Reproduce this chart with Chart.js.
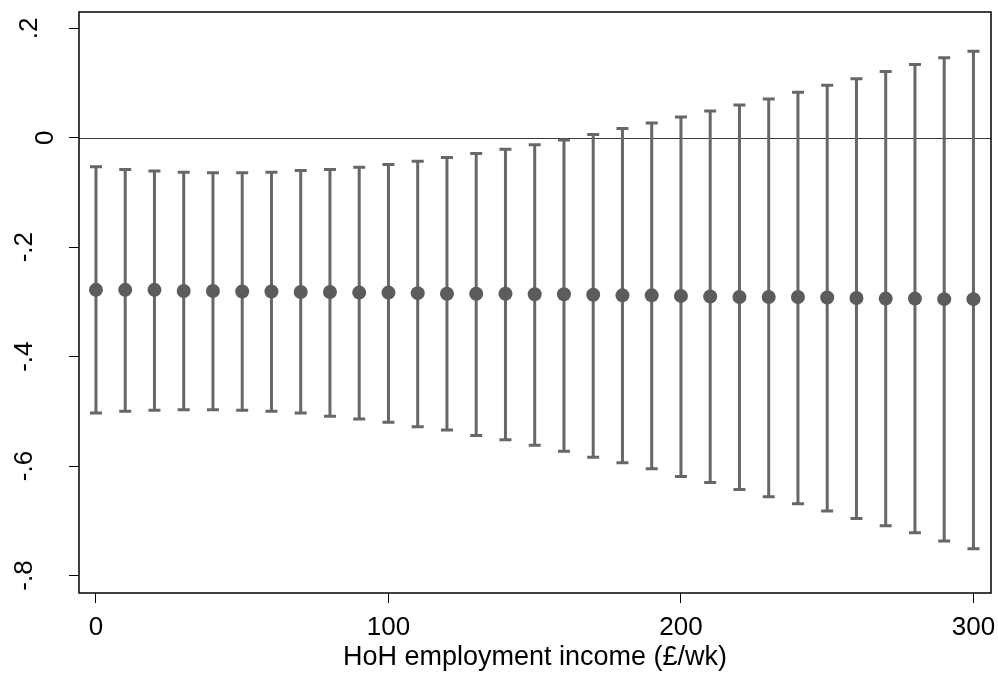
<!DOCTYPE html>
<html>
<head>
<meta charset="utf-8">
<script src="https://cdn.jsdelivr.net/npm/chart.js@4.4.1/dist/chart.umd.min.js"></script>
<style>
	html, body { margin: 0; padding: 0; background: #fff; }
	#wrap { width: 998px; height: 678px; }
</style>
</head>
<body>
<div id="wrap"><canvas id="chart" width="998" height="678"></canvas></div>
<script>
	// income levels (categories)
	var income = [0, 10, 20, 30, 40, 50, 60, 70, 80, 90, 100, 110, 120, 130, 140, 150,
		160, 170, 180, 190, 200, 210, 220, 230, 240, 250, 260, 270, 280, 290, 300];

	// marginal effect and its confidence interval
	var estimate = [-0.278, -0.278, -0.278, -0.280, -0.280, -0.281, -0.281, -0.282, -0.282, -0.283, -0.283,
		-0.284, -0.285, -0.285, -0.285, -0.286, -0.286, -0.287, -0.288, -0.288, -0.289,
		-0.290, -0.291, -0.291, -0.291, -0.292, -0.293, -0.294, -0.294, -0.295, -0.295];
	var upper = [-0.053, -0.058, -0.061, -0.063, -0.064, -0.064, -0.063, -0.060, -0.058, -0.054, -0.049,
		-0.043, -0.036, -0.029, -0.021, -0.013, -0.004, 0.006, 0.017, 0.027, 0.038,
		0.049, 0.060, 0.071, 0.083, 0.096, 0.108, 0.121, 0.134, 0.146, 0.158];
	var lower = [-0.503, -0.500, -0.498, -0.497, -0.497, -0.498, -0.500, -0.503, -0.509, -0.514, -0.520,
		-0.528, -0.534, -0.544, -0.552, -0.562, -0.573, -0.584, -0.594, -0.605, -0.619,
		-0.630, -0.643, -0.656, -0.669, -0.682, -0.696, -0.709, -0.722, -0.737, -0.751];

	var xTicks = [0, 100, 200, 300];
	var yTicks = [-0.8, -0.6, -0.4, -0.2, 0, 0.2];
	var xTitle = 'HoH employment income (£/wk)';

	var FONT = '"Liberation Sans", Arial, Helvetica, sans-serif';
	var barColor = '#676767';
	var dotColor = '#5c5c5c';

	function stataLabel(v) {
		var s = String(Math.round(v * 10) / 10);
		return s.replace(/^(-?)0\./, '$1.');
	}

	// where the baseline of a vertical y label sits (Stata puts short ones nearer the axis)
	function labelX(v) {
		if(v < 0) {
			return 32;
		}
		return v === 0 ? 53 : 37;
	}

	// tiny helper so the loops read like the rest of the codebase
	var _ = {
		each: function(list, fn) {
			for(var i = 0; i < list.length; i++) {
				fn(list[i], i);
			}
		}
	};

	var errorBars = {
		id: 'errorBars',
		beforeDatasetsDraw: function(chart) {
			var ctx = chart.ctx;
			var x = chart.scales.x;
			var y = chart.scales.y;
			var area = chart.chartArea;

			ctx.save();
			// reference line at zero
			var y0 = Math.round(y.getPixelForValue(0)) + 0.5;
			ctx.strokeStyle = '#3a3a3a';
			ctx.lineWidth = 1;
			ctx.beginPath();
			ctx.moveTo(area.left, y0);
			ctx.lineTo(area.right, y0);
			ctx.stroke();

			ctx.strokeStyle = barColor;
			ctx.lineWidth = 3;
			_.each(income, function(v, i) {
				var px = x.getPixelForValue(v);
				var top = y.getPixelForValue(upper[i]);
				var bot = y.getPixelForValue(lower[i]);
				ctx.beginPath();
				ctx.moveTo(px, top);
				ctx.lineTo(px, bot);
				ctx.moveTo(px - 6, top);
				ctx.lineTo(px + 6, top);
				ctx.moveTo(px - 6, bot);
				ctx.lineTo(px + 6, bot);
				ctx.stroke();
			});
			ctx.restore();
		},
		afterDraw: function(chart) {
			var ctx = chart.ctx;
			var y = chart.scales.y;
			var area = chart.chartArea;

			ctx.save();
			ctx.strokeStyle = '#000';
			ctx.lineWidth = 1.5;
			ctx.strokeRect(area.left, area.top, area.right - area.left, area.bottom - area.top);

			// vertical tick labels, Stata style
			ctx.fillStyle = '#000';
			ctx.font = '26px ' + FONT;
			ctx.textAlign = 'center';
			ctx.textBaseline = 'alphabetic';
			_.each(yTicks, function(v) {
				ctx.save();
				ctx.translate(labelX(v), y.getPixelForValue(v));
				ctx.rotate(-Math.PI / 2);
				ctx.fillText(stataLabel(v), 0, 0);
				ctx.restore();
			});
			ctx.restore();
		}
	};

	var points = income.map(function(v, i) {
		return {x: v, y: estimate[i]};
	});

	new Chart(document.getElementById('chart'), {
		type: 'scatter',
		data: {
			datasets: [{
				data: points,
				pointRadius: 7,
				pointBackgroundColor: dotColor,
				pointBorderWidth: 0,
				showLine: false
			}]
		},
		options: {
			responsive: false,
			animation: false,
			devicePixelRatio: 1,
			layout: {
				padding: {top: 12, right: 7, left: 0, bottom: 0}
			},
			plugins: {
				legend: {display: false},
				tooltip: {enabled: false}
			},
			scales: {
				x: {
					type: 'linear',
					min: -5.8,
					max: 306,
					afterBuildTicks: function(scale) {
						scale.ticks = xTicks.map(function(v) { return {value: v}; });
					},
					afterFit: function(scale) {
						scale.height = 85;
						scale.paddingLeft = 0;
						scale.paddingRight = 0;
					},
					grid: {
						drawOnChartArea: false,
						drawTicks: true,
						tickLength: 10,
						color: '#000',
						lineWidth: 1
					},
					border: {display: false},
					ticks: {
						color: '#000',
						padding: 9,
						maxRotation: 0,
						font: {family: FONT, size: 26},
						callback: function(v) { return String(v); }
					},
					title: {
						display: true,
						text: xTitle,
						color: '#000',
						font: {family: FONT, size: 27},
						padding: {top: 0, bottom: 4}
					}
				},
				y: {
					type: 'linear',
					min: -0.832,
					max: 0.2298,
					afterBuildTicks: function(scale) {
						scale.ticks = yTicks.map(function(v) { return {value: v}; });
					},
					afterFit: function(scale) {
						scale.width = 79;
					},
					grid: {
						drawOnChartArea: false,
						drawTicks: true,
						tickLength: 10,
						color: '#000',
						lineWidth: 1
					},
					border: {display: false},
					ticks: {display: false}
				}
			}
		},
		plugins: [errorBars]
	});
</script>
</body>
</html>
